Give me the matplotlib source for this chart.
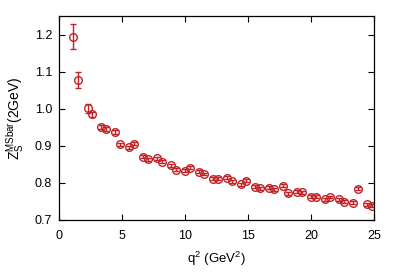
import numpy as np
import matplotlib
matplotlib.use("Agg")
import matplotlib.pyplot as plt

plt.rcParams["font.family"] = ["Liberation Sans", "DejaVu Sans"]
plt.rcParams["mathtext.fontset"] = "custom"
plt.rcParams["mathtext.rm"] = "Liberation Sans"
plt.rcParams["mathtext.it"] = "Liberation Sans"

# q^2 (GeV^2) and Z_S^MSbar(2 GeV)
q2 = [1.14, 1.51, 2.28, 2.62, 3.36, 3.72, 4.47, 4.84, 5.58, 5.93, 6.67, 7.04,
      7.80, 8.17, 8.89, 9.27, 10.0, 10.40, 11.13, 11.51, 12.22, 12.60, 13.33,
      13.71, 14.44, 14.84, 15.56, 15.93, 16.67, 17.06, 17.78, 18.17, 18.89,
      19.26, 20.0, 20.37, 21.11, 21.50, 22.22, 22.60, 23.33, 23.71, 24.44, 24.82]
zs = [1.194, 1.078, 1.001, 0.985, 0.950, 0.946, 0.938, 0.904, 0.896, 0.906,
      0.870, 0.864, 0.866, 0.857, 0.848, 0.835, 0.833, 0.841, 0.830, 0.824,
      0.811, 0.811, 0.814, 0.805, 0.797, 0.806, 0.790, 0.786, 0.787, 0.783,
      0.792, 0.772, 0.776, 0.775, 0.763, 0.763, 0.756, 0.762, 0.756, 0.749,
      0.746, 0.784, 0.743, 0.738]
err = [0.034, 0.022, 0.013, 0.006, 0.005, 0.005, 0.005, 0.004, 0.004, 0.004,
       0.004, 0.004, 0.004, 0.004, 0.004, 0.004, 0.004, 0.004, 0.004, 0.004,
       0.004, 0.004, 0.004, 0.004, 0.004, 0.004, 0.004, 0.004, 0.004, 0.004,
       0.004, 0.004, 0.004, 0.004, 0.004, 0.004, 0.004, 0.004, 0.004, 0.004,
       0.004, 0.004, 0.004, 0.004]

RED = "#c42126"

fig = plt.figure(figsize=(3.99, 2.79), dpi=100)
ax = fig.add_axes([0.148, 0.2115, 0.789, 0.731])

ax.errorbar(q2, zs, yerr=err, fmt="o", mfc="none", mec=RED, color=RED,
            ms=5.5, mew=1.0, elinewidth=1.0, capsize=2.2, capthick=1.0)

ax.set_xlim(0, 25)
ax.set_ylim(0.7, 1.25)
ax.set_xticks(np.arange(0, 26, 5))
ax.set_yticks([0.7, 0.8, 0.9, 1.0, 1.1, 1.2])
ax.yaxis.set_major_formatter(matplotlib.ticker.FormatStrFormatter("%.1f"))
ax.tick_params(axis="x", pad=7)
ax.tick_params(axis="y", pad=5)
ax.tick_params(direction="in", top=True, right=True, length=4, width=0.8,
               labelsize=9)
for s in ax.spines.values():
    s.set_linewidth(0.9)

ax.set_xlabel(r"q$^2$ (GeV$^2$)", fontsize=9.5, labelpad=6)
ax.set_ylabel(r"Z$_\mathrm{S}^\mathrm{MSbar}$(2GeV)", fontsize=10, labelpad=6)

fig.savefig("out.png", dpi=100)
